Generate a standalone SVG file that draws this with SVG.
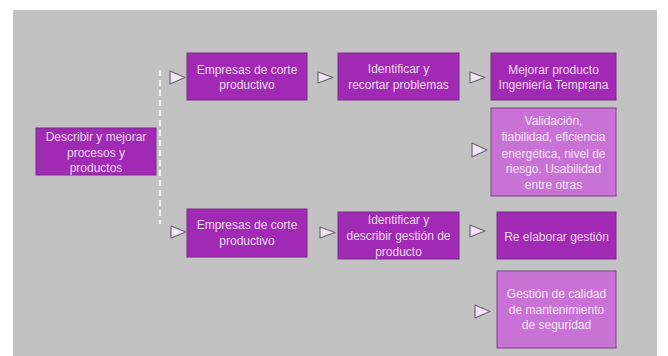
<svg xmlns="http://www.w3.org/2000/svg" width="668" height="356" viewBox="0 0 668 356">
<defs>
<style>
.dark{fill:#a02ab4;stroke:#7a2a86;stroke-width:1}
.light{fill:#c872d6;stroke:#7a3f86;stroke-width:1}
.t{font-family:"Liberation Sans",Arial,sans-serif;font-size:12px;fill:#f2d9f2;text-anchor:middle}
.tl{font-family:"Liberation Sans",Arial,sans-serif;font-size:12px;fill:#f6e4f6;text-anchor:middle}
.tri{fill:#f1e6f3;stroke:#6a6470;stroke-width:1.2;stroke-linejoin:round}
.dash{stroke:#f4f4f4;stroke-width:2.2;stroke-dasharray:6 4;fill:none}
</style>
</defs>
<rect x="0" y="0" width="668" height="356" fill="#ffffff"/>
<rect x="13" y="10" width="644" height="346" fill="#c2c2c2"/>
<g id="connectors">
<line class="dash" x1="160" y1="70" x2="160" y2="224"/>
<polygon class="tri" points="170,71 185,77.5 170,84"/>
<polygon class="tri" points="318,72 333,77.5 318,83"/>
<polygon class="tri" points="470,72 485,77.5 470,83"/>
<polygon class="tri" points="472,143 487,150 472,157"/>
<polygon class="tri" points="171,226 186,232 171,238"/>
<polygon class="tri" points="320,227 335,232.5 320,238"/>
<polygon class="tri" points="470,225 485,231 470,237"/>
<polygon class="tri" points="475,305 490,311.5 475,318"/>
</g>
<g id="n-describir">
<rect class="dark" x="36" y="128" width="120" height="47"/>
<text class="t" x="96" y="141">Describir y mejorar</text>
<text class="t" x="96" y="157">procesos y</text>
<text class="t" x="96" y="172">productos</text>
</g>
<g id="n-empresas1">
<rect class="dark" x="187" y="53" width="120" height="47"/>
<text class="t" x="247" y="74">Empresas de corte</text>
<text class="t" x="247" y="89">productivo</text>
</g>
<g id="n-identificar1">
<rect class="dark" x="338" y="53" width="121" height="47"/>
<text class="t" x="398.5" y="73">Identificar y</text>
<text class="t" x="398.5" y="89">recortar problemas</text>
</g>
<g id="n-mejorar">
<rect class="dark" x="491" y="53" width="125" height="47"/>
<text class="t" x="553.5" y="74">Mejorar producto</text>
<text class="t" x="553.5" y="89">Ingeniería Temprana</text>
</g>
<g id="n-validacion">
<rect class="light" x="491" y="108" width="125" height="88"/>
<text class="tl" x="553.5" y="125">Validación,</text>
<text class="tl" x="553.5" y="141">fiabilidad, eficiencia</text>
<text class="tl" x="553.5" y="158">energética, nivel de</text>
<text class="tl" x="553.5" y="173">riesgo. Usabilidad</text>
<text class="tl" x="553.5" y="189">entre otras</text>
</g>
<g id="n-empresas2">
<rect class="dark" x="187" y="209" width="120" height="48"/>
<text class="t" x="247" y="229">Empresas de corte</text>
<text class="t" x="247" y="245">productivo</text>
</g>
<g id="n-identificar2">
<rect class="dark" x="338" y="212" width="121" height="47"/>
<text class="t" x="398.5" y="224">Identificar y</text>
<text class="t" x="398.5" y="240">describir gestión de</text>
<text class="t" x="398.5" y="256">producto</text>
</g>
<g id="n-reelaborar">
<rect class="dark" x="497" y="212" width="119" height="47"/>
<text class="t" x="556.5" y="241">Re elaborar gestión</text>
</g>
<g id="n-gestion">
<rect class="light" x="497" y="271" width="119" height="77"/>
<text class="tl" x="556.5" y="298">Gestión de calidad</text>
<text class="tl" x="556.5" y="314">de mantenimiento</text>
<text class="tl" x="556.5" y="329">de seguridad</text>
</g>
</svg>
